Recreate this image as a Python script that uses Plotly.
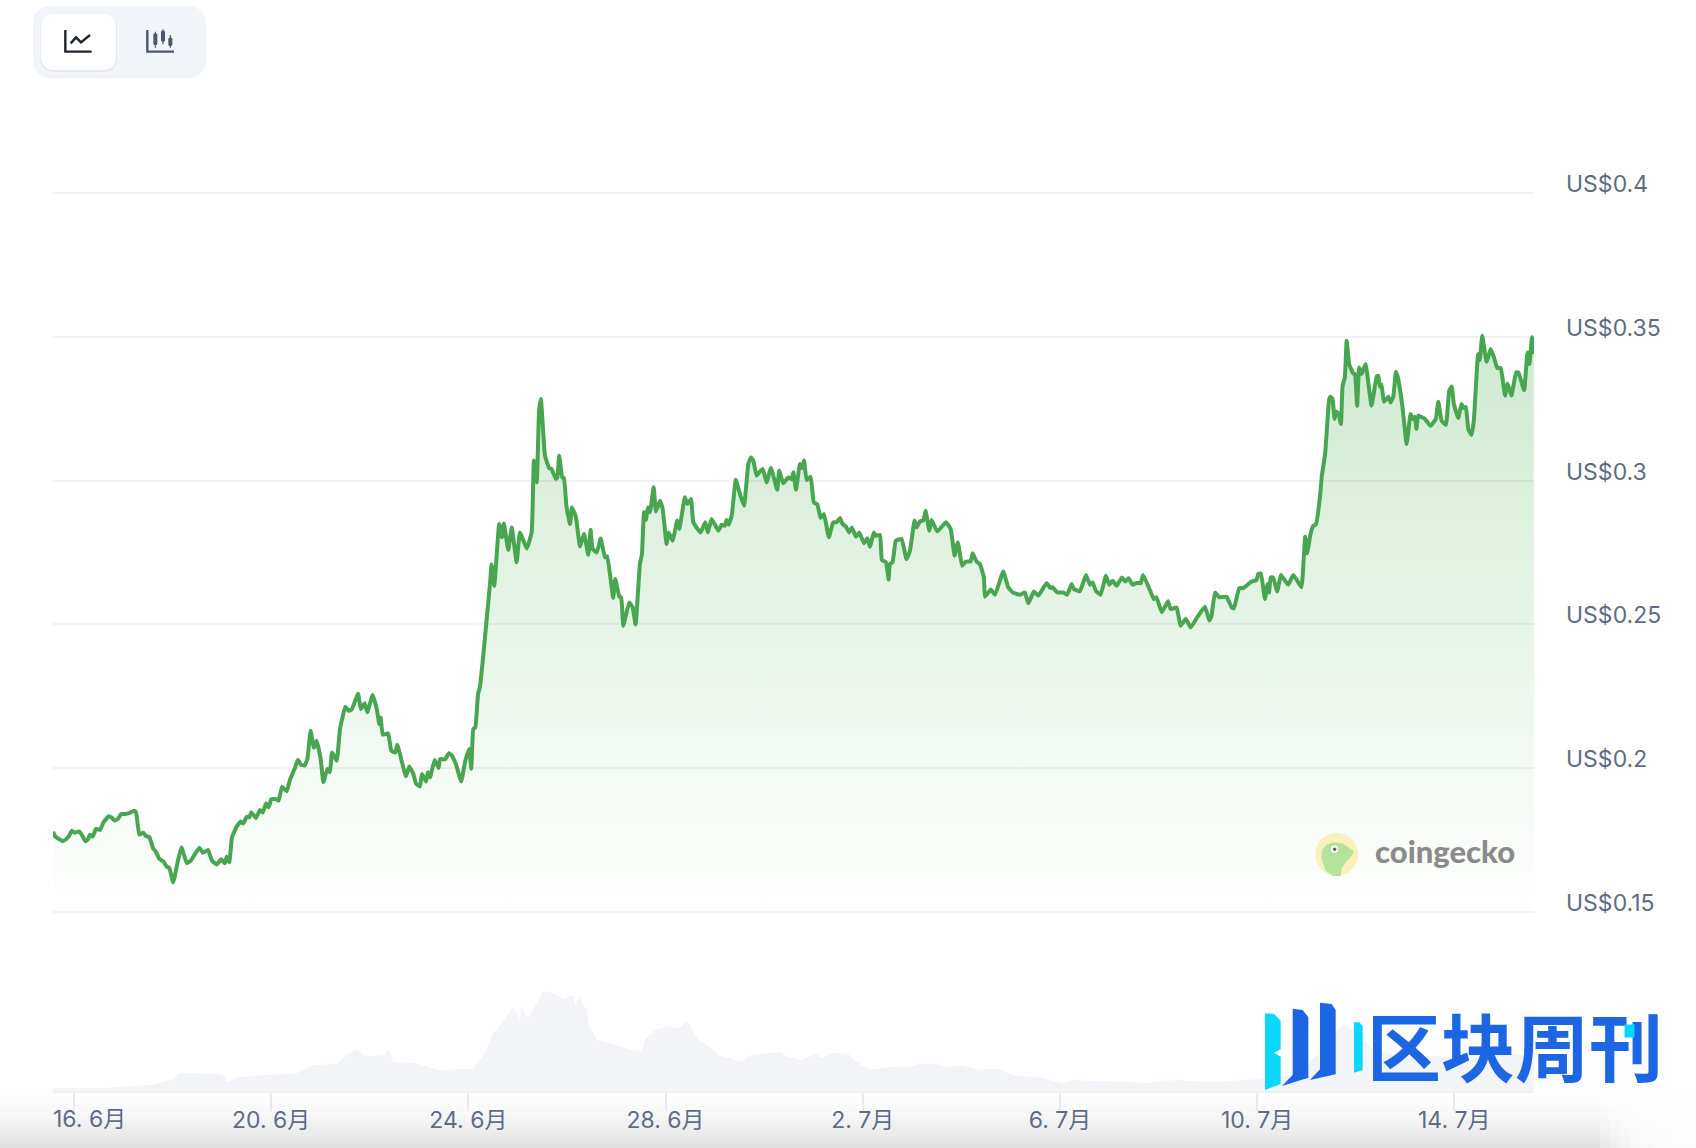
import plotly.graph_objects as go

W, H = 1696, 1148

# hours since 16 June 00:00
hours = [-10.2,-9.1,-7.2,-5.5,-3.9,-2.6,-1,.3,2.3,3.6,5.5,6.8,7.8,9.1,10.7,12.7,14.3,16.9,18.2,19.8,21.4,23,25,26.9,29.2,30.2,31.8,33.7,35,36.7,38.6,39.9,41.5,43.5,45.1,46.4,48.3,50.6,52.3,54.9,56.8,58.4,61,62.7,65.2,67.2,69.5,71.7,73.4,74.3,75.6,76.9,79.2,81.2,82.4,84.1,85.3,86.3,88.6,90.5,91.9,93.5,94.8,96,98.7,99.6,101.3,103.5,105.1,
107.4,109,110.4,112.3,113.6,115.2,116.8,118.1,120.1,121.4,123.3,124.6,125.6,127.9,129.5,132.1,133.7,135.3,138.3,139.6,141.5,142.8,145.4,147.4,148.6,149.3,150.3,152.9,154.5,156.4,157.4,161.6,163.2,165.2,166.5,168.4,169.4,171.4,172.3,173.3,175.6,177.5,178.2,180.7,182.4,183.7,186,188.5,190.5,192.4,193.4,194.4,195.4,196.7,197.6,
199,202.5,203.3,204.6,207,208.4,209.3,211.4,213.1,215.5,217.1,220.4,222.8,223.9,225.3,226.4,227.3,229.3,231.4,232.5,234.5,235.3,236.2,237.7,238.5,239.8,241.5,242.4,244.4,246.3,248.3,250.4,251.5,252.5,254.5,256.4,258.5,259.6,262.5,263.5,265.5,266.4,267.4,270.3,272,273.4,275.5,276.5,277.5,278.4,279.4,280.4,282.2,283.3,285.3,286.6,288.5,289.5,291.4,293.7,294.7,297.4,298.6,300.4,301.5,305.1,307.3,308.6,310.4,313.7,315.3,316.9,317.7,318.7,320.2,322.2,324.2,326.2,328.3,329.6,330.7,332.3,333.6,335.3,337.2,339.3,342.4,343.3,345.3,347.7,349.4,350.2,351.5,353.4,354.4,355.4,356.7,358.6,360.2,361.8,363.5,365.1,367.5,369.6,371.3,372.9,
374.2,375.8,377.4,378.7,380.7,382.3,384.6,386.2,387.5,389.4,390.4,392.4,393.3,395.3,396.6,397.2,398.5,400.1,402.9,405.3,407,409.2,410.2,411.8,413.4,414.6,416.4,417.5,420.3,424.5,426.8,428.7,430.3,432.4,434.2,436.5,437.5,439.4,441,443,443.5,446.3,448.4,452.4,454.8,457,460.5,462.9,464.6,467.3,469.4,471.1,473.5,475.4,476.4,478.7,481.6,483.5,485.7,486.8,489.7,492.7,494.6,
495.9,497.5,499.8,502.4,504,505.6,507.6,510.2,511.8,513.4,515.4,517.3,519.3,520.5,523.8,525.7,527,529.6,532.6,533.9,536.8,538.7,541.3,543.6,546.8,550.6,552.7,553.8,555.5,557.5,561.1,563.6,564.7,567.3,569.2,573.3,575.7,576.5,577.8,579.8,581.1,581.8,582.6,583.8,585.8,587.6,591.1,593.6,596,597.6,
599.4,600.3,602,603.3,604.6,606.6,607.5,609.1,611.1,611.8,612.7,613.7,614.4,615.7,616.8,617.6,618.7,619.6,620.8,622.8,623.6,624.7,625.7,626.9,628.8,631.7,634.2,635,635.8,636.6,637.7,639.9,641,642.3,643.6,644.7,646.8,648.8,650.7,651.7,652.7,653.6,654.4,657.7,660.4,663,664.2,665.8,667.9,669.5,670.7,671.8,673.9,675.5,676.3,677.6,678.8,680.4,681.5,683.6,684.4,685.6,687.7,689.7,691.3,692.9,694.6,696.7,697.9,699.8,702.1,703.2,706,707.6,708.6,709.8,710.7]

prices = [.1778,.1761,.1752,.1745,.1752,.1761,.1782,.1775,.1779,.177,.1745,.1752,.1768,.1761,.1788,.1784,.181,.1832,.1828,.1817,.1823,.184,.184,.1843,.1851,.1845,.1768,.1775,.1763,.1759,.1719,.1708,.1684,.1675,.1657,.1652,.1602,.1677,.1724,.1669,.1677,.1695,.1722,.1705,.1715,.1677,.1664,.1682,.1668,.1691,.1672,.1759,.1796,.1814,.1807,.183,.1828,.1845,.1826,.1854,.1845,.1877,.1863,.1891,.1891,.1886,.1935,.1919,.1958,
.1997,.2029,.2012,.2009,.2031,.213,.207,.2095,.2031,.195,.1997,.1985,.2054,.2025,.2136,.2213,.2199,.2205,.2258,.2205,.2225,.2194,.2254,.2205,.2153,.2176,.2116,.212,.206,.2054,.2081,.1971,.2005,.1979,.1946,.1935,.1979,.1953,.1985,.1967,.2028,.2,.2031,.203,.2051,.2046,.2012,.1953,.2025,.2066,.1997,.2136,.2141,.2258,.2281,
.2373,.264,.2708,.2634,.2849,.2803,.2851,.2759,.2837,.2716,.282,.2764,.282,.307,.2994,.3243,.3284,.3087,.3043,.3041,.3006,.3011,.3087,.3011,.3009,.2907,.2849,.2907,.2872,.2771,.2814,.2742,.2829,.2762,.275,.2799,.2733,.2736,.2592,.2658,.2596,.2594,.2495,.2576,.2559,.2499,.271,.2745,.289,.2863,.2907,.289,.2977,.2893,.293,.2901,.278,.282,.2791,.2861,.2832,.2942,.2919,.2936,.2855,.282,.2855,.282,.2867,.2826,.2847,.2843,.2863,.2847,.2878,.3003,.2954,.2913,.3058,.3081,.307,.3017,.3029,.3041,.2994,.3044,.2968,.3035,.2991,.3011,.3006,.3029,.2968,.3058,.3044,.307,.3002,.3014,.2924,.2919,.287,.2884,.2803,.2855,.2855,.287,
.2849,.284,.282,.2837,.2805,.282,.2782,.28,.277,.282,.2808,.2811,.2724,.2716,.2656,.271,.2716,.2791,.2797,.2727,.2756,.2861,.2837,.2858,.2861,.2895,.2826,.2863,.2823,.2855,.2832,.2739,.2785,.2704,.2718,.2719,.2747,.2719,.271,.2663,.2596,.2621,.2603,.2684,.2629,.2611,.2603,.2611,.2573,.2614,.26,.2617,.2644,.2626,.2629,.2611,.2611,.2603,.264,.2623,.2615,.2672,.2638,
.2646,.2617,.2603,.2669,.2638,.2652,.2634,.2663,.2649,.266,.2638,.2644,.2643,.2672,.2619,.2588,.2594,.2542,.258,.2553,.2559,.2495,.2519,.2489,.2524,.2561,.2513,.253,.2611,.2594,.2596,.2559,.2555,.2626,.2626,.2649,.2654,.2675,.2677,.2588,.264,.2611,.2663,.2663,.2615,.2672,.2638,.2672,.2646,.2629,
.2805,.2747,.2814,.2843,.2847,.2942,.3017,.3093,.3284,.3292,.3284,.3215,.3241,.3232,.3197,.333,.3359,.3487,.3406,.3373,.3371,.3261,.3394,.3371,.3406,.3261,.3362,.3365,.3327,.3334,.3275,.3292,.3272,.3292,.3379,.3354,.3255,.3128,.3232,.3215,.3223,.318,.3226,.3215,.3191,.3215,.3275,.3209,.3194,.3313,.3328,.3267,.3218,.3267,.3253,.3257,.318,.3159,.3209,.3441,.342,.3504,.3414,.3458,.3429,.3392,.3392,.3296,.3338,.3296,.3377,.3377,.3315,.3446,.3406,.3499,.3441]

vol_hours = [-10.2,13.6,38.5,47.2,51.6,72,75,80.8,95.4,108,116.8,128,132.9,137.8,141.7,151.4,153.3,155.3,167.5,177.7,193.7,200,203.5,206.2,213.7,217.1,217.6,221,228.3,230.7,238.5,243.4,243.9,245.8,249.7,250.7,254.6,261.9,272.1,276.5,278,283.3,289.2,294.5,298.4,304.3,310.6,314,325.2,329.1,343.7,346.9,354.2,361.5,364,368.9,376.9,381,387.5,396.4,400.5,406,411.8,418.3,426.4,432.1,441,449.2,457.3,470.3,481.6,486.5,505.8,522.2,528.7,538.4,554.5,578.8,596.8,603.1,612.9,617.8,624.6,632.3,645.5,661.6,678.2,694.2,710.7]
volumes = [3,3,6.3,10.7,18.3,16.7,9,14,16.3,17.3,25.7,27.3,35.7,41.7,34.7,35.7,41.7,29,27.3,20.7,22.3,37.3,55.7,62.3,84,72,85.7,72,99,99.7,92.3,95.7,84,94,80.7,65.7,50.7,47.3,40.7,39,52.3,61.3,64.7,62.3,70,50.7,42.3,35.7,29,35.7,39,34.7,30.7,37.3,33,38,37.3,29,21.3,24,24.7,24,27.3,27.3,24,25.7,21.3,22.3,15.7,13.3,8,10.7,9.7,8,10.3,10.7,9,12.3,18,32,52,67,58,42,35,35,32,38,35]

y_ticks = [0.15, 0.2, 0.25, 0.3, 0.35, 0.4]
y_labels = ["US$0.15", "US$0.2", "US$0.25", "US$0.3", "US$0.35", "US$0.4"]
x_ticks = [0, 96, 192, 288, 384, 480, 576, 672]
x_labels = ["16. 6月", "20. 6月", "24. 6月", "28. 6月", "2. 7月", "6. 7月", "10. 7月", "14. 7月"]

TEXT = "#5f6c86"
FONT = "Inter, 'Noto Sans CJK SC', sans-serif"
GRID = "#f1f1f6"

def px(x): return x / W
def py(y): return 1 - y / H

def path(points):
    return "M" + " L".join(f"{px(x):.5f},{py(y):.5f}" for x, y in points) + " Z"

def open_path(points):
    return "M" + " L".join(f"{px(x):.5f},{py(y):.5f}" for x, y in points)

def zoomed(points, ox, oy):
    return [(ox + a / 3, oy + b / 3) for a, b in points]

def rrect(x0, y0, x1, y1, r):
    import math
    pts = []
    for cx, cy, a0 in [(x1 - r, y0 + r, -90), (x1 - r, y1 - r, 0), (x0 + r, y1 - r, 90), (x0 + r, y0 + r, 180)]:
        for k in range(7):
            a = math.radians(a0 + k * 15)
            pts.append((cx + r * math.cos(a), cy + r * math.sin(a)))
    return path(pts)

def fill_shape(d, color, layer="above", opacity=1):
    return dict(type="path", xref="paper", yref="paper", path=d, fillcolor=color,
                line=dict(width=0), layer=layer, opacity=opacity)

def line_shape(d, color, width):
    return dict(type="path", xref="paper", yref="paper", path=d, line=dict(color=color, width=width), layer="above")

shapes = []
# bottom grey band
for y in range(1076, 1148, 2):
    t = (y - 1076) / 72
    g = int(round(255 - 34 * t ** 2.2))
    shapes.append(dict(type="rect", xref="paper", yref="paper", x0=0, x1=1, y0=py(y + 2), y1=py(y),
                       fillcolor=f"rgb({g},{g},{min(g+1,255)})", line=dict(width=0), layer="below"))
for x in range(1600, 1672, 10):
    shapes.append(dict(type="rect", xref="paper", yref="paper", x0=px(x), x1=1, y0=0, y1=py(1076),
                       fillcolor="rgba(255,255,255,0.28)", line=dict(width=0), layer="below"))

# toolbar
shapes.append(fill_shape(rrect(33, 6, 206, 78, 17), "#f1f4f9"))
shapes.append(fill_shape(rrect(40, 14, 117, 72, 13), "rgba(30,40,60,0.05)"))
shapes.append(fill_shape(rrect(41, 14, 116, 70, 12), "#ffffff"))
shapes.append(line_shape(open_path(zoomed([(196, 90), (196, 155), (275, 155)], 0, 0)), "#1e2433", 2.4))
shapes.append(line_shape(open_path(zoomed([(212, 130), (228, 112), (243, 127), (270, 105)], 0, 0)), "#1e2433", 2.4))
shapes.append(line_shape(open_path(zoomed([(442, 90), (442, 155), (522, 155)], 0, 0)), "#4b5870", 2.4))
for cx, a, b, w0, w1 in [(466, 100, 135, 95, 143), (489, 92, 125, 88, 133), (511, 113, 138, 105, 143)]:
    shapes.append(fill_shape(rrect((cx - 6) / 3, a / 3, (cx + 6) / 3, b / 3, 1.5), "#4b5870"))
    shapes.append(line_shape(open_path(zoomed([(cx, w0), (cx, w1)], 0, 0)), "#4b5870", 1.2))

# coingecko mark
shapes.append(dict(type="circle", xref="paper", yref="paper", x0=px(1315.2), x1=px(1358.2), y0=py(875.8), y1=py(832.8),
                   fillcolor="#f9f1bb", line=dict(width=0), layer="above"))
gecko = [(377, 272), (364, 235), (366, 210), (378, 195), (398, 187), (425, 190), (445, 202), (462, 215), (455, 228), (438, 245), (425, 265), (422, 288), (400, 288)]
shapes.append(fill_shape(path(zoomed(gecko, 1200, 780)), "#b6e39c"))
shapes.append(dict(type="circle", xref="paper", yref="paper", x0=px(1330.8), x1=px(1338), y0=py(852.8), y1=py(845.6),
                   fillcolor="#ffffff", line=dict(width=0), layer="above"))
shapes.append(dict(type="circle", xref="paper", yref="paper", x0=px(1333), x1=px(1336.4), y0=py(851), y1=py(847.6),
                   fillcolor="#5a6a50", line=dict(width=0), layer="above"))

# watermark mark
CYAN, BLUE = "#0ad7fb", "#1d66e3"
wm = 1200, 780
shapes.append(fill_shape(path(zoomed([(195, 700), (222, 702), (242, 722), (242, 808), (222, 818), (242, 830), (242, 912), (195, 930)], *wm)), CYAN))
shapes.append(fill_shape(path(zoomed([(278, 686), (308, 690), (325, 712), (325, 893), (246, 918), (278, 885)], *wm)), BLUE))
shapes.append(fill_shape(path(zoomed([(360, 668), (395, 672), (407, 690), (407, 883), (330, 900), (360, 868)], *wm)), BLUE))
shapes.append(fill_shape(path(zoomed([(462, 727), (478, 727), (488, 738), (488, 870), (462, 878)], *wm)), CYAN))

annotations = [
    dict(xref="x domain", yref="paper", x=0, y=py(1119), xanchor="left", yanchor="middle", showarrow=False,
         text=x_labels[0], font=dict(family=FONT, size=23, color=TEXT), xshift=-2),
    dict(xref="paper", yref="paper", x=px(1444.5), y=py(851), xanchor="center", yanchor="middle", showarrow=False,
         text="coingecko", font=dict(family="Lato, sans-serif", size=31, color="#8a8a8a", weight=900)),
    dict(xref="paper", yref="paper", x=px(1515), y=py(1043), xanchor="center", yanchor="middle", showarrow=False,
         text="区块周刊", font=dict(family="'Noto Sans CJK SC'", size=74, color=BLUE, weight=700)),
    dict(xref="paper", yref="paper", x=px(1629), y=py(1031), xanchor="center", yanchor="middle", showarrow=False,
         text=" ", width=9, height=12, borderpad=0, bgcolor=CYAN, font=dict(size=6)),
]

fig = go.Figure()
fig.add_trace(go.Scatter(
    x=vol_hours, y=volumes, xaxis="x", yaxis="y2", mode="lines",
    line=dict(width=0, color="#f3f4f7"), fill="tozeroy", fillcolor="#f3f4f7", hoverinfo="skip"))
fig.add_trace(go.Scatter(
    x=hours, y=prices, xaxis="x2", yaxis="y", mode="lines",
    line=dict(color="#49a650", width=4, shape="spline", smoothing=0.35),
    fill="tozeroy",
    fillgradient=dict(type="vertical", start=0.15, stop=0.35,
                      colorscale=[[0, "rgba(76,175,80,0)"], [1, "rgba(76,175,80,0.27)"]])))

x_range = [-10.23, 710.8]
dom_x = [px(53), px(1534)]
# the price range runs slightly past the outer ticks so that their grid lines are kept
fig.update_layout(
    width=W, height=H, margin=dict(l=0, r=0, t=0, b=0, pad=0, autoexpand=False),
    paper_bgcolor="#ffffff", plot_bgcolor="rgba(0,0,0,0)", showlegend=False,
    shapes=shapes, annotations=annotations,
    xaxis=dict(domain=dom_x, range=x_range, anchor="y2", tickmode="array", tickvals=x_ticks,
               ticktext=[""] + x_labels[1:], ticks="outside", ticklen=18, tickwidth=1.5, tickcolor="#e9e9ef",
               showgrid=False, zeroline=False, showline=True, linecolor="#f0f0f4", linewidth=2, automargin=False,
               ticklabelstandoff=-11, tickfont=dict(family=FONT, size=23, color=TEXT)),
    xaxis2=dict(domain=dom_x, range=x_range, anchor="y", overlaying="x", visible=False, automargin=False),
    yaxis=dict(domain=[py(914.5), py(190.5)], range=[0.149, 0.401], anchor="x2", side="right",
               tickmode="array", tickvals=y_ticks, ticktext=y_labels, showgrid=True, gridcolor=GRID, gridwidth=1.6,
               zeroline=False, showline=False, ticks="", ticklabelstandoff=31, ticklabelshift=-9, automargin=False,
               tickfont=dict(family=FONT, size=23, color=TEXT)),
    yaxis2=dict(domain=[py(1091), py(990)], range=[0, 101], anchor="x", showgrid=False, zeroline=False,
                showticklabels=False, ticks="", automargin=False),
)

fig.write_html("out.html", config=dict(displayModeBar=False),
               post_script="document.body.style.margin='0';document.body.style.overflow='hidden';")
